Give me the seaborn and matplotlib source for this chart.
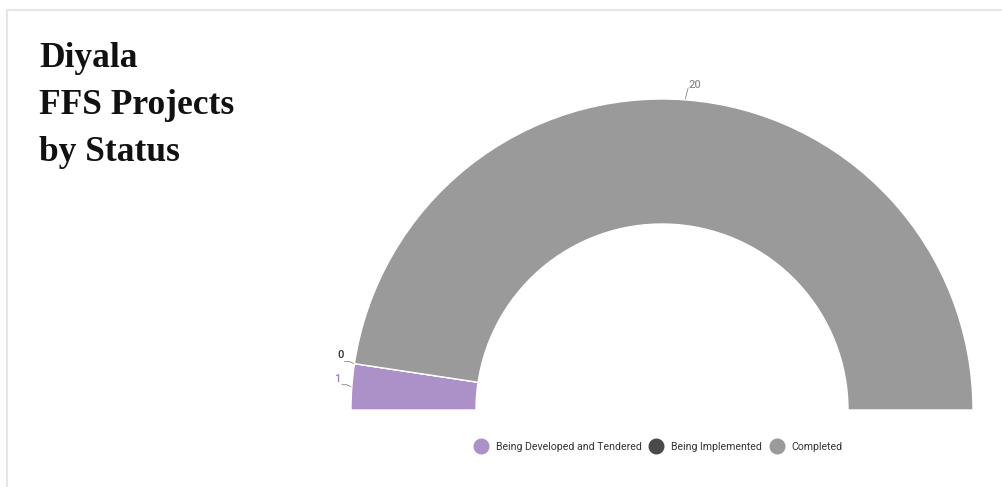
import numpy as np
import matplotlib.pyplot as plt
import seaborn as sns
from matplotlib.lines import Line2D

# data
statuses = ["Being Developed and Tendered", "Being Implemented", "Completed"]
counts = [1, 0, 20]
colors = ["#ab91c8", "#4a4a4a", "#9a9a9a"]
label_colors = ["#9a7fc0", "#333333", "#8f8f8f"]

title_lines = ["Diyala", "FFS Projects", "by Status"]

sns.set_style("white")
plt.rcParams["font.family"] = ["Roboto", "DejaVu Sans"]

W, H = 1002, 487
fig = plt.figure(figsize=(W / 100, H / 100), dpi=100)
ax = fig.add_axes([0, 0, 1, 1])
ax.axis("off")

# half donut: each status takes its share of 180 degrees
total = sum(counts)
fracs = [c / total / 2 for c in counts]
cx, cy, r_out, ring = 662, 77, 311, 125
ax.pie(fracs, colors=colors, startangle=180, counterclock=False,
       center=(cx, cy), radius=r_out, normalize=False,
       wedgeprops=dict(width=ring, edgecolor="white", linewidth=1))
ax.set_xlim(0, W)
ax.set_ylim(0, H)

# value labels with small leader lines
cum = 0
for c, col in zip(counts, label_colors):
    mid = np.deg2rad(180 - (cum + c / 2) / total * 180)
    cum += c
    x0, y0 = cx + (r_out + 1) * np.cos(mid), cy + (r_out + 1) * np.sin(mid)
    if np.cos(mid) < -0.5:
        x1, y1 = x0 - 4, y0 + 2
        x2 = x1 - 5
        ax.plot([x0, x1, x2], [y0, y1, y1], color="#888888", lw=0.6)
        ax.text(x2 - 1, y1 + 1, str(c), color=col, fontsize=8,
                fontweight="medium", ha="right", va="bottom")
    else:
        x1, y1 = cx + (r_out + 12) * np.cos(mid) + 2, cy + (r_out + 12) * np.sin(mid)
        ax.plot([x0, x1], [y0, y1], color="#888888", lw=0.6)
        ax.text(x1 + 0.5, y1 - 2, str(c), color=col, fontsize=8,
                fontweight="medium", ha="left", va="bottom")

# legend
handles = [Line2D([], [], marker="o", linestyle="", markersize=10.5,
                  markerfacecolor=col, markeredgecolor=col) for col in colors]
fig.legend(handles, statuses, loc="center", bbox_to_anchor=(659 / W, 1 - 447 / H),
           ncol=3, frameon=False, fontsize=7.6, handletextpad=0.9,
           columnspacing=0.9, handlelength=1.0, labelcolor="#333333")

# title
for i, line in enumerate(title_lines):
    fig.text(39 / W, 1 - (67 + 47 * i) / H, line, fontsize=25.5, fontweight="bold",
             family=["Liberation Serif", "DejaVu Serif"], color="#111111",
             ha="left", va="baseline")

# card border
fig.add_artist(Line2D([7 / W, 7 / W, 1], [0, 1 - 10 / H, 1 - 10 / H],
                      transform=fig.transFigure, color="#e6e6e6", lw=1.6))

fig.savefig("out.png", dpi=100, facecolor="white")
